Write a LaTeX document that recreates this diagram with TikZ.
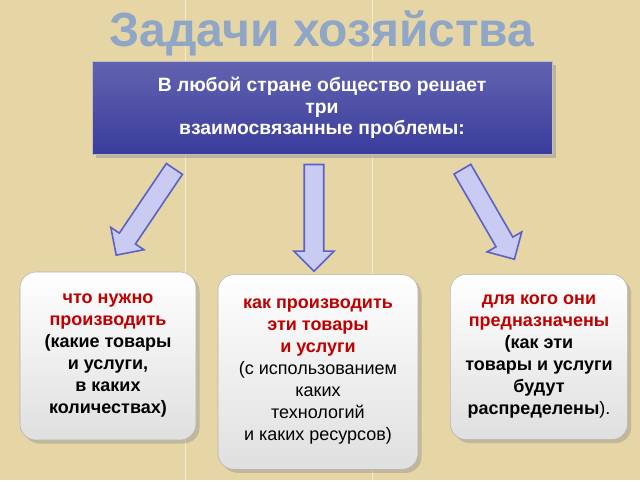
\documentclass[tikz,border=0pt]{standalone}
\usepackage{fontspec}
\setmainfont{Liberation Sans}
\usetikzlibrary{shapes.arrows,shadows}
\definecolor{bgtan}{HTML}{E6D6A6}
\definecolor{boxblue}{HTML}{3A3C9C}
\definecolor{arrfill}{HTML}{C9CBF2}
\definecolor{arrline}{HTML}{5A62C8}
\definecolor{redtxt}{HTML}{C00000}
\definecolor{titleblue}{HTML}{8FA6C6}
\tikzset{
  taskbox/.style={draw=gray!60,rounded corners=12pt,top color=white,bottom color=gray!25,
    drop shadow={opacity=0.35},align=center,inner sep=2pt,
    font=\fontsize{13.5}{16.5}\selectfont\bfseries},
  fatarrow/.style={single arrow,draw=arrline,line width=1.2pt,fill=arrfill,
    single arrow head extend=7pt,minimum height=#1,minimum width=30pt,inner sep=6pt},
}
\begin{document}
\begin{tikzpicture}[x=0.75pt,y=-0.75pt]
  \useasboundingbox[fill=bgtan] (0,0) rectangle (640,480);
  \draw[white,opacity=0.5] (185,0) -- (185,480) (372,0) -- (372,480);
  % title
  \node (title) at (322,33) {\fontsize{36}{40}\selectfont\bfseries\color{titleblue}Задачи хозяйства};
  % top box
  \node[draw=gray!50,top color=boxblue!80,bottom color=boxblue,drop shadow={opacity=0.4},
    minimum width=345pt,minimum height=70pt,text=white,align=center,
    font=\fontsize{14.5}{16}\selectfont\bfseries] (prob) at (322,108)
    {В любой стране общество решает \\ три\\ взаимосвязанные проблемы:};
  % arrows
  \node[fatarrow=78pt,rotate=-124] (arrl) at (148,208) {};
  \node[fatarrow=80pt,rotate=-90] (arrm) at (314,213) {};
  \node[fatarrow=78pt,rotate=-60] (arrr) at (486,210) {};
  % boxes
  \node[taskbox,minimum width=132pt,minimum height=126pt] (what) at (108,356)
    {\color{redtxt}что нужно\\ \color{redtxt}производить\\ (какие товары\\ и услуги,\\ в каких\\ количествах)};
  \node[taskbox,minimum width=150pt,minimum height=146pt] (how) at (318,372)
    {\color{redtxt}как производить\\ \color{redtxt}эти товары\\ \color{redtxt}и услуги\\
     \mdseries(с использованием\\ \mdseries каких\\ \mdseries технологий\\ \mdseries и каких ресурсов)};
  \node[taskbox,minimum width=133pt,minimum height=124pt] (whom) at (539,357)
    {\color{redtxt}для кого они\\ \color{redtxt}предназначены\\ (как эти\\ товары и услуги\\ будут\\ распределены\mdseries).};
\end{tikzpicture}
\end{document}
